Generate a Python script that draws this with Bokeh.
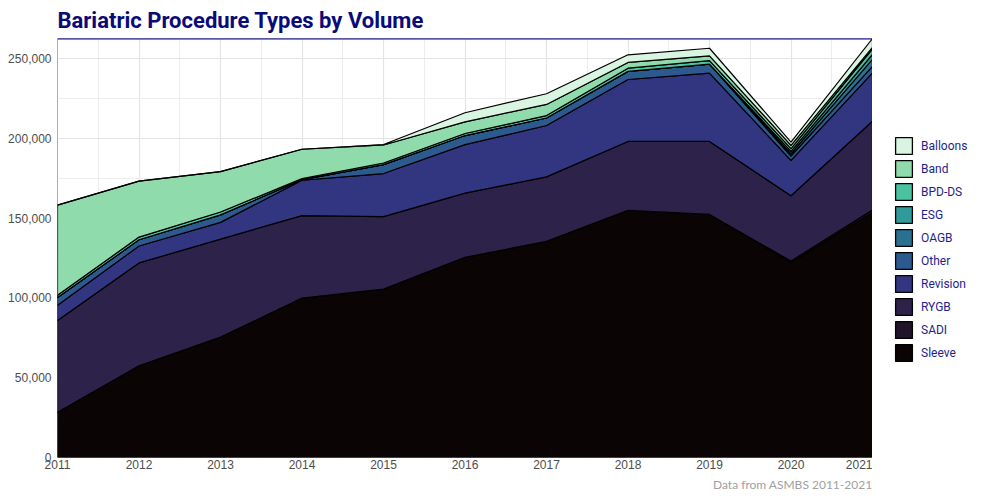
import numpy as np
from bokeh.plotting import figure
from bokeh.layouts import row
from bokeh.models import (Range1d, FixedTicker, NumeralTickFormatter, Legend,
                          LegendItem, Title, Span)
from bokeh.embed import file_html
from bokeh.resources import INLINE

# ---- data ----
years = [2011, 2012, 2013, 2014, 2015, 2016, 2017, 2018, 2019, 2020, 2021]
sleeve = [28300, 57500, 75400, 99900, 105500, 125400, 135400, 154800, 152300, 122200, 153500]
sadi = [0, 0, 0, 0, 0, 0, 0, 0, 0, 900, 1600]
rygb = [57500, 64400, 61400, 51600, 45400, 40200, 40400, 43200, 45700, 40900, 55600]
revision = [9600, 10600, 10500, 22200, 27000, 30400, 32200, 38800, 42800, 22200, 30300]
other = [4800, 3900, 4700, 300, 5600, 5700, 4700, 5100, 5600, 2700, 4000]
oagb = [0, 0, 0, 0, 0, 0, 0, 0, 0, 1400, 4500]
esg = [0, 0, 0, 0, 0, 0, 0, 0, 0, 1500, 3000]
bpd_ds = [1500, 1700, 1800, 700, 1000, 1300, 1500, 2000, 2200, 1700, 3500]
band = [56400, 35000, 25300, 18400, 11300, 7300, 7000, 3600, 3000, 2100, 1000]
balloons = [0, 0, 0, 0, 300, 5700, 6700, 4800, 4800, 2000, 5500]

# stacking order bottom -> top
series_names = ["Sleeve", "SADI", "RYGB", "Revision", "Other", "OAGB", "ESG", "BPD-DS", "Band", "Balloons"]
series_values = [sleeve, sadi, rygb, revision, other, oagb, esg, bpd_ds, band, balloons]
colors = ["#0B0405", "#1F1429", "#2D2249", "#32357F", "#2D5A8E", "#2A7191",
          "#2F9B9B", "#4BC3A0", "#90DBAB", "#D9F4E0"]

y_ticks = [0, 50000, 100000, 150000, 200000, 250000]
y_minor = [25000, 75000, 125000, 175000, 225000]
x_minor = [y + 0.5 for y in years[:-1]]

title_text = "Bariatric Procedure Types by Volume"
caption_text = "Data from ASMBS 2011-2021"

# ---- stacked geometry from the data ----
vals = np.array(series_values, dtype=float)
cum = np.cumsum(vals, axis=0)
ymax = float(cum[-1].max())
x_poly = list(years) + list(years[::-1])
polys = []
for i in range(len(series_names)):
    top = cum[i]
    bottom = cum[i - 1] if i > 0 else np.zeros(len(years))
    polys.append(list(top) + list(bottom[::-1]))

# ---- main figure ----
p = figure(width=872, height=500, output_backend="svg", toolbar_location=None,
           x_range=Range1d(years[0], years[-1]), y_range=Range1d(0, ymax),
           min_border_left=57, min_border_top=36, min_border_bottom=43, min_border_right=0)

p.title.text = title_text
p.title.text_font = "Roboto"
p.title.text_font_size = "22px"
p.title.text_font_style = "bold"
p.title.text_color = "#0A0A78"
p.title.align = "left"
p.title.standoff = 11

p.background_fill_color = "white"
p.border_fill_color = "white"
p.outline_line_color = "#A5A5DF"
p.outline_line_width = 1

p.xaxis.ticker = FixedTicker(ticks=years, minor_ticks=x_minor)
p.yaxis.ticker = FixedTicker(ticks=y_ticks, minor_ticks=y_minor)
p.yaxis.formatter = NumeralTickFormatter(format="0,0")
for g in (p.xgrid, p.ygrid):
    g.grid_line_color = "#E4E4E4"
    g.grid_line_width = 1.2
    g.minor_grid_line_color = "#EDEDED"
    g.minor_grid_line_width = 1

for ax in (p.xaxis, p.yaxis):
    ax.axis_line_color = None
    ax.major_tick_line_color = None
    ax.minor_tick_line_color = None
    ax.major_tick_out = 0
    ax.minor_tick_out = 0
    ax.major_label_text_font = "Liberation Sans"
    ax.major_label_text_font_size = "12px"
    ax.major_label_text_color = "#4D4D4D"
p.yaxis.major_label_standoff = 6
p.xaxis.major_label_standoff = 2

for col, y_poly in zip(colors, polys):
    p.patch(x=x_poly, y=y_poly, fill_color=col, line_color="black", line_width=1.2,
            line_join="round")

p.add_layout(Span(location=ymax, dimension="width", line_color="#0A0A78", line_width=2))

cap = Title(text=caption_text, align="right", text_font="Lato", text_font_size="12px",
            text_font_style="normal", text_color="#A0A0A0", standoff=6)
p.add_layout(cap, "below")

# ---- legend panel: a narrow figure whose view range excludes the data,
#      so only its legend is seen ----
lf = figure(width=128, height=500, output_backend="svg", toolbar_location=None,
            x_range=Range1d(0, 1), y_range=Range1d(0, 1),
            min_border_left=0, min_border_right=0, min_border_top=0, min_border_bottom=0)
lf.axis.visible = False
lf.grid.visible = False
lf.outline_line_color = None
lf.background_fill_color = "white"
lf.border_fill_color = "white"

items = []
for name, col, y_poly in zip(series_names, colors, polys):
    r = lf.patch(x=x_poly, y=y_poly, fill_color=col, line_color="black", line_width=1.3)
    items.append(LegendItem(label=name, renderers=[r]))
items = items[::-1]

legend = Legend(items=items, location=(21, 94), glyph_width=21, glyph_height=21,
                spacing=2, label_standoff=7, label_text_font="Roboto",
                label_text_font_size="12px", label_text_color="#1E1E8C",
                border_line_color=None, background_fill_alpha=0,
                margin=0, padding=10)
lf.add_layout(legend, "center")

layout = row(p, lf, spacing=0)
open("out.html", "w").write(file_html(layout, INLINE))
